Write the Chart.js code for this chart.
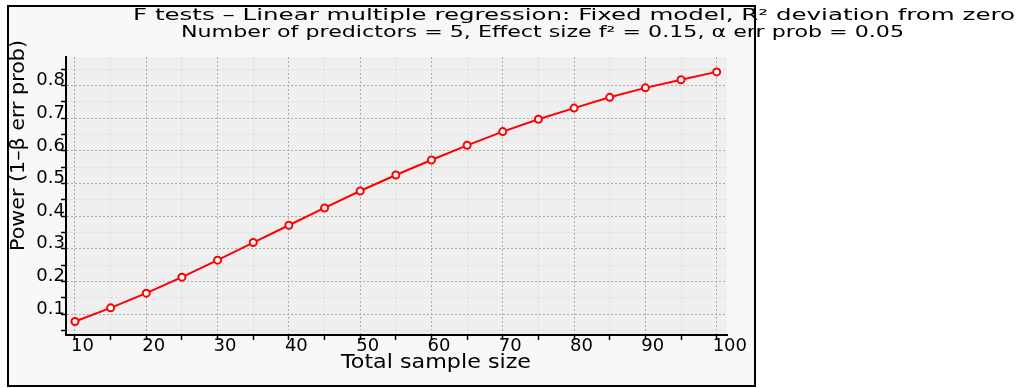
<!DOCTYPE html>
<html lang="en">
<head>
<meta charset="UTF-8">
<title>Power vs total sample size</title>
<script src="https://cdn.jsdelivr.net/npm/chart.js"></script>
<style>
  body { margin: 0; background: #fff; }
  canvas { display: block; }
</style>
</head>
<body>
<canvas id="chart" width="1021" height="388"></canvas>
<script>
// values
const sampleSizes = [10, 15, 20, 25, 30, 35, 40, 45, 50, 55, 60, 65, 70, 75, 80, 85, 90, 95, 100];
const power = [0.077, 0.119, 0.164, 0.213, 0.265, 0.319, 0.372, 0.425, 0.477, 0.526,
               0.572, 0.617, 0.659, 0.697, 0.731, 0.764, 0.793, 0.818, 0.842];

const xTicks = [10, 15, 20, 25, 30, 35, 40, 45, 50, 55, 60, 65, 70, 75, 80, 85, 90, 95, 100];
const yTicks = [0.05, 0.1, 0.15, 0.2, 0.25, 0.3, 0.35, 0.4, 0.45, 0.5, 0.55, 0.6, 0.65, 0.7, 0.75, 0.8, 0.85];

const titleText = 'F tests \u2013 Linear multiple regression: Fixed model, R\u00b2 deviation from zero';
const subtitleText = 'Number of predictors = 5, Effect size f\u00b2 = 0.15, \u03b1 err prob = 0.05';
const xTitle = 'Total sample size';
const yTitle = 'Power (1\u2013\u03b2 err prob)';

const FONT = '"DejaVu Sans", sans-serif';

function isMajorX(v) { return v % 10 === 0; }
function isMajorY(v) { return Math.abs(v * 10 - Math.round(v * 10)) < 1e-6; }

// stretch a text so it spans the given width, like the original's wide lettering
function spanText(ctx, text, x, y, width, size, angle) {
  ctx.save();
  ctx.font = size + 'px ' + FONT;
  ctx.fillStyle = '#000';
  ctx.textBaseline = 'alphabetic';
  ctx.textAlign = 'left';
  const w = ctx.measureText(text).width;
  ctx.translate(x, y);
  if (angle) ctx.rotate(angle);
  ctx.scale(width / w, 1);
  ctx.fillText(text, 0, 0);
  ctx.restore();
}

const framePlugin = {
  id: 'frame',
  beforeDraw(chart) {
    const { ctx, chartArea: a } = chart;
    ctx.save();
    ctx.fillStyle = '#ffffff';
    ctx.fillRect(0, 0, chart.width, chart.height);
    ctx.fillStyle = '#f8f8f8';
    ctx.fillRect(8, 6, 747, 380);
    ctx.fillStyle = '#efefef';
    ctx.fillRect(a.left, a.top, a.right - a.left, a.bottom - a.top);
    ctx.restore();
  },
  afterDraw(chart) {
    const ctx = chart.ctx;
    ctx.save();
    ctx.strokeStyle = '#000';
    ctx.lineWidth = 2;
    ctx.strokeRect(8, 6, 747, 380);
    ctx.restore();
    spanText(ctx, titleText, 133, 20, 882, 16);
    spanText(ctx, subtitleText, 181, 37, 723, 16);
    spanText(ctx, xTitle, 341, 368, 190, 20);
    spanText(ctx, yTitle, 24, 251, 211, 20, -Math.PI / 2);
  }
};

const ctx = document.getElementById('chart').getContext('2d');
const chart = new Chart(ctx, {
  type: 'line',
  data: {
    datasets: [{
      label: 'Power',
      data: sampleSizes.map((n, i) => ({ x: n, y: power[i] })),
      borderColor: '#ff0000',
      borderWidth: 2,
      pointRadius: 3.5,
      pointBorderWidth: 2,
      pointBorderColor: '#ff0000',
      pointBackgroundColor: '#ffffff',
      tension: 0,
      fill: false
    }]
  },
  options: {
    responsive: false,
    animation: false,
    layout: { padding: { left: 0, top: 57, right: 294, bottom: 0 } },
    plugins: { legend: { display: false }, title: { display: false }, tooltip: { enabled: false } },
    scales: {
      x: {
        type: 'linear',
        min: 8.74,
        max: 101.45,
        afterBuildTicks: s => { s.ticks = xTicks.map(v => ({ value: v })); },
        afterFit: s => { s.height = 53; },
        grid: {
          color: c => (c.tick && isMajorX(c.tick.value)) ? '#adadad' : '#dcdcdc',
          lineWidth: 1,
          tickLength: 5,
          tickColor: '#000',
          tickWidth: 1.5
        },
        border: { display: true, color: '#000', width: 2, dash: [2, 2] },
        ticks: {
          autoSkip: false,
          maxRotation: 0,
          align: 'start',
          labelOffset: -4,
          padding: -4,
          color: '#000',
          font: { family: FONT, size: 18 },
          callback: v => isMajorX(v) ? String(v) : ''
        }
      },
      y: {
        type: 'linear',
        min: 0.0357,
        max: 0.8876,
        afterBuildTicks: s => { s.ticks = yTicks.map(v => ({ value: v })); },
        afterFit: s => { s.width = 66; },
        grid: {
          color: c => (c.tick && isMajorY(c.tick.value)) ? '#adadad' : '#dcdcdc',
          lineWidth: 1,
          tickLength: 5,
          tickColor: '#000',
          tickWidth: 1.5
        },
        border: { display: true, color: '#000', width: 2, dash: [2, 2] },
        ticks: {
          autoSkip: false,
          labelOffset: -5,
          padding: -4,
          color: '#000',
          font: { family: FONT, size: 18 },
          callback: v => isMajorY(v) ? v.toFixed(1) : ''
        }
      }
    }
  },
  plugins: [framePlugin]
});
</script>
</body>
</html>
